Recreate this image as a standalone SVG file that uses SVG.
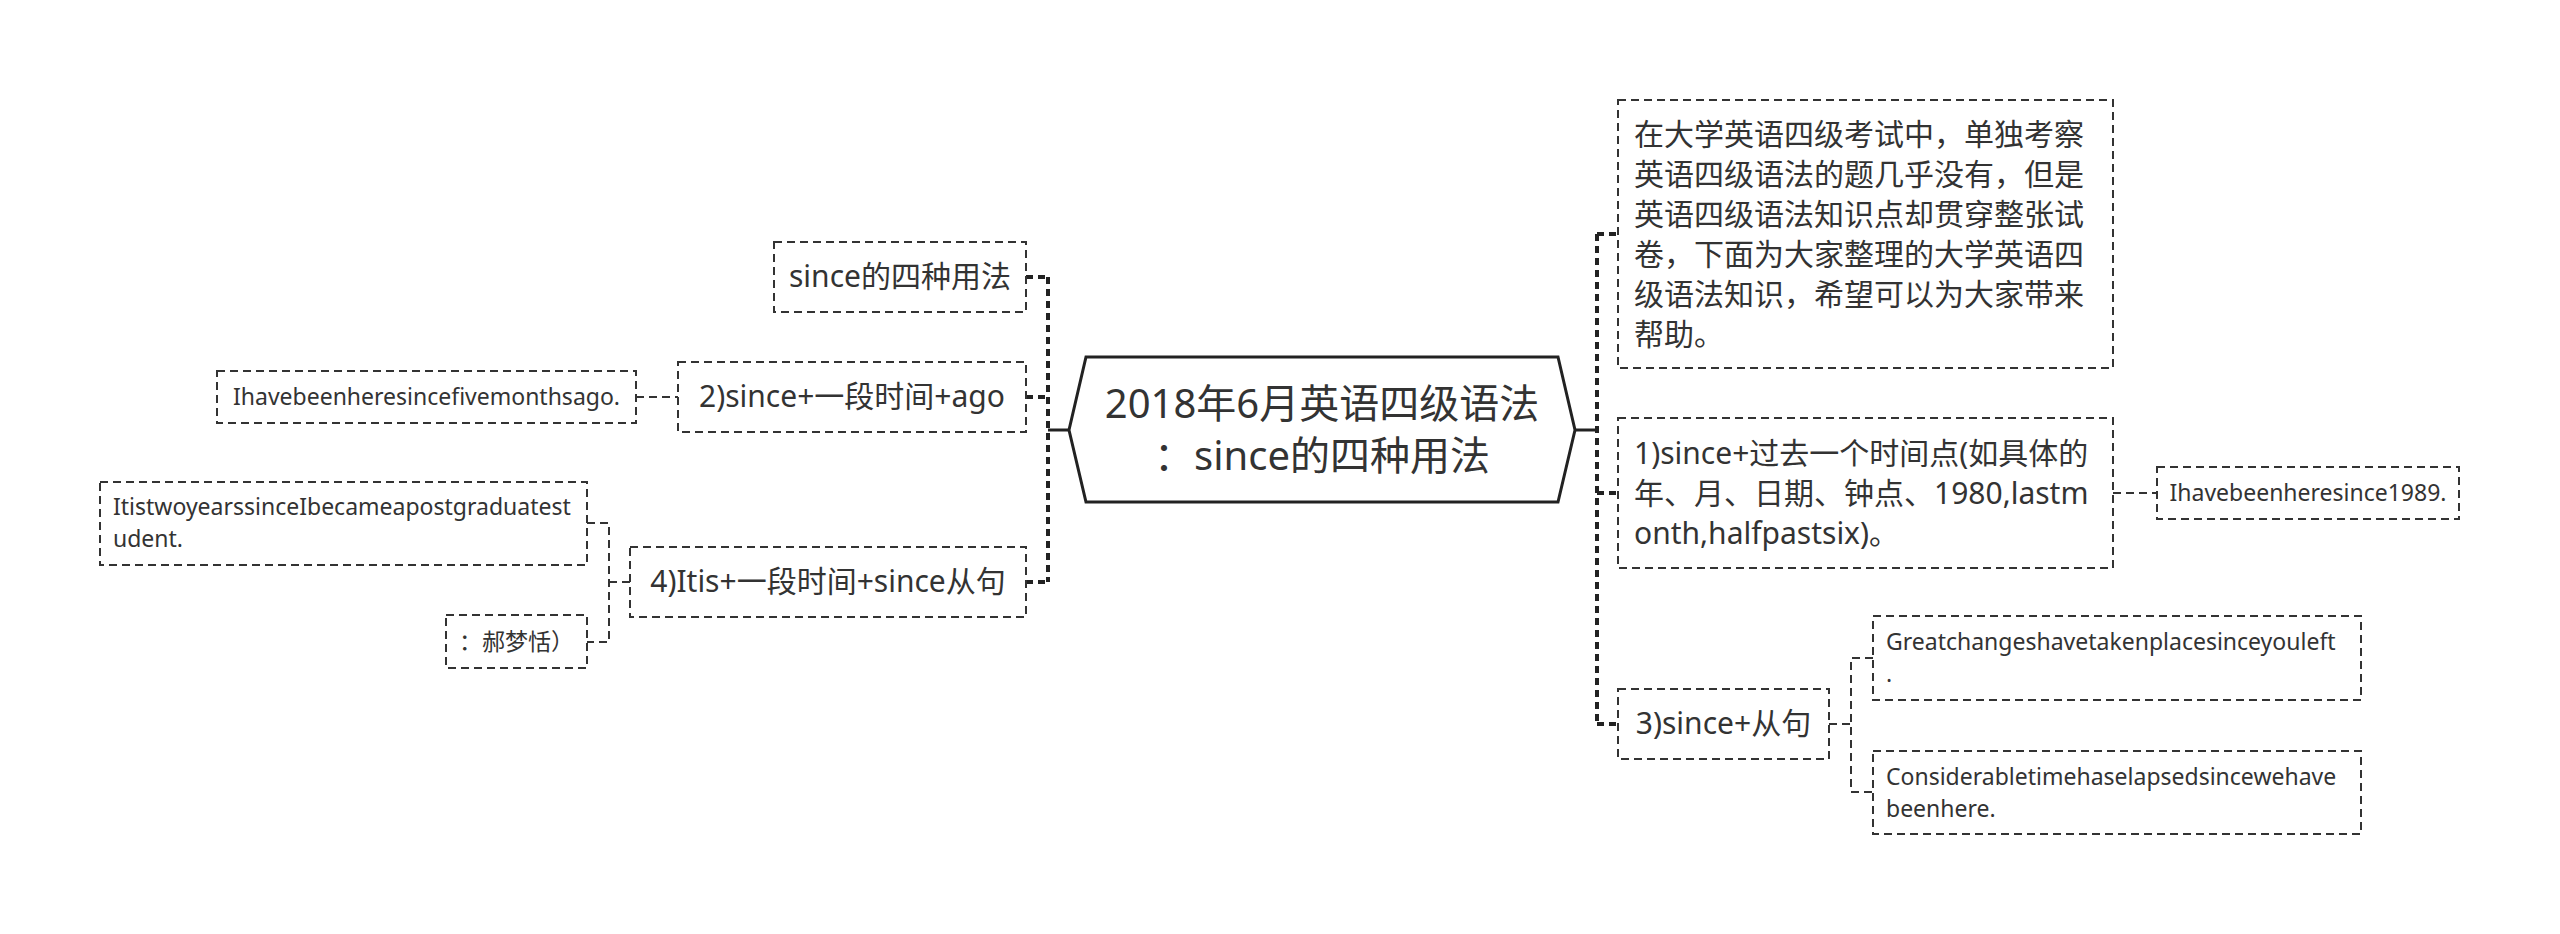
<svg xmlns="http://www.w3.org/2000/svg" width="2560" height="934" viewBox="0 0 2560 934">
<style>
.box{fill:#ffffff;stroke:#333333;stroke-width:2;stroke-dasharray:8 5}
.t{font-family:"Noto Sans","Noto Sans CJK SC",sans-serif;fill:#333333;font-variant-ligatures:none}
.t40{font-size:40px}
.t30{font-size:30px}
.t24{font-size:23px}
.mid{text-anchor:middle}
.thick{stroke:#222222;stroke-width:4;stroke-dasharray:7 5;fill:none}
.solid{stroke:#222222;stroke-width:3;fill:none}
.thin{stroke:#333333;stroke-width:2;stroke-dasharray:8 5;fill:none}
</style>
<rect width="2560" height="934" fill="#ffffff"/>
<g id="connectors">
  <line class="thick" x1="1048" y1="277" x2="1048" y2="582"/>
  <line class="solid" x1="1048" y1="430" x2="1069" y2="430"/>
  <line class="thick" x1="1026" y1="277" x2="1048" y2="277"/>
  <line class="thick" x1="1026" y1="397" x2="1048" y2="397"/>
  <line class="thick" x1="1026" y1="582" x2="1048" y2="582"/>
  <line class="thin" x1="636" y1="397" x2="678" y2="397"/>
  <polyline class="thin" points="587,523 609,523 609,642 587,642"/>
  <line class="thin" x1="609" y1="582" x2="630" y2="582"/>
  <line class="thick" x1="1597" y1="234" x2="1597" y2="724"/>
  <line class="solid" x1="1575" y1="430" x2="1597" y2="430"/>
  <line class="thick" x1="1597" y1="234" x2="1618" y2="234"/>
  <line class="thick" x1="1597" y1="493" x2="1618" y2="493"/>
  <line class="thick" x1="1597" y1="724" x2="1618" y2="724"/>
  <line class="thin" x1="2113" y1="493" x2="2157" y2="493"/>
  <line class="thin" x1="1829" y1="724" x2="1851" y2="724"/>
  <polyline class="thin" points="1873,658 1851,658 1851,792 1873,792"/>
</g>
<g id="center">
  <polygon points="1069,430 1086,357 1558,357 1575,430 1558,502 1086,502" fill="#ffffff" stroke="#222222" stroke-width="3"/>
  <text class="t t40 mid" x="1322" y="418">2018年6月英语四级语法</text>
  <text class="t t40 mid" x="1322" y="470">：since的四种用法</text>
</g>
<g id="n-since">
  <rect class="box" x="774" y="242" width="252" height="70"/>
  <text class="t t30 mid" x="900" y="287">since的四种用法</text>
</g>
<g id="n-2">
  <rect class="box" x="678" y="362" width="348" height="70"/>
  <text class="t t30 mid" x="852" y="407">2)since+一段时间+ago</text>
</g>
<g id="leaf-2">
  <rect class="box" x="217" y="371" width="419" height="52"/>
  <text class="t t24 mid" x="426.5" y="405">Ihavebeenheresincefivemonthsago.</text>
</g>
<g id="n-4">
  <rect class="box" x="630" y="547" width="396" height="70"/>
  <text class="t t30 mid" x="828" y="592">4)Itis+一段时间+since从句</text>
</g>
<g id="leaf-4a">
  <rect class="box" x="100" y="482" width="487" height="83"/>
  <text class="t t24" x="113" y="515">ItistwoyearssinceIbecameapostgraduatest</text>
  <text class="t t24" x="113" y="547">udent.</text>
</g>
<g id="leaf-4b">
  <rect class="box" x="446" y="615" width="141" height="53"/>
  <text class="t t24 mid" x="516.5" y="650">：郝梦恬）</text>
</g>
<g id="n-intro">
  <rect class="box" x="1618" y="100" width="495" height="268"/>
  <text class="t t30" x="1634" y="145">在大学英语四级考试中，单独考察</text>
  <text class="t t30" x="1634" y="185">英语四级语法的题几乎没有，但是</text>
  <text class="t t30" x="1634" y="225">英语四级语法知识点却贯穿整张试</text>
  <text class="t t30" x="1634" y="265">卷，下面为大家整理的大学英语四</text>
  <text class="t t30" x="1634" y="305">级语法知识，希望可以为大家带来</text>
  <text class="t t30" x="1634" y="345">帮助。</text>
</g>
<g id="n-1">
  <rect class="box" x="1618" y="418" width="495" height="150"/>
  <text class="t t30" x="1634" y="464">1)since+过去一个时间点(如具体的</text>
  <text class="t t30" x="1634" y="504">年、月、日期、钟点、1980,lastm</text>
  <text class="t t30" x="1634" y="544">onth,halfpastsix)。</text>
</g>
<g id="leaf-1">
  <rect class="box" x="2157" y="467" width="302" height="52"/>
  <text class="t t24 mid" x="2308" y="501">Ihavebeenheresince1989.</text>
</g>
<g id="n-3">
  <rect class="box" x="1618" y="689" width="211" height="70"/>
  <text class="t t30 mid" x="1723.5" y="734">3)since+从句</text>
</g>
<g id="leaf-3a">
  <rect class="box" x="1873" y="616" width="488" height="84"/>
  <text class="t t24" x="1886" y="650">Greatchangeshavetakenplacesinceyouleft</text>
  <text class="t t24" x="1886" y="682">.</text>
</g>
<g id="leaf-3b">
  <rect class="box" x="1873" y="751" width="488" height="83"/>
  <text class="t t24" x="1886" y="785">Considerabletimehaselapsedsincewehave</text>
  <text class="t t24" x="1886" y="817">beenhere.</text>
</g>
</svg>
